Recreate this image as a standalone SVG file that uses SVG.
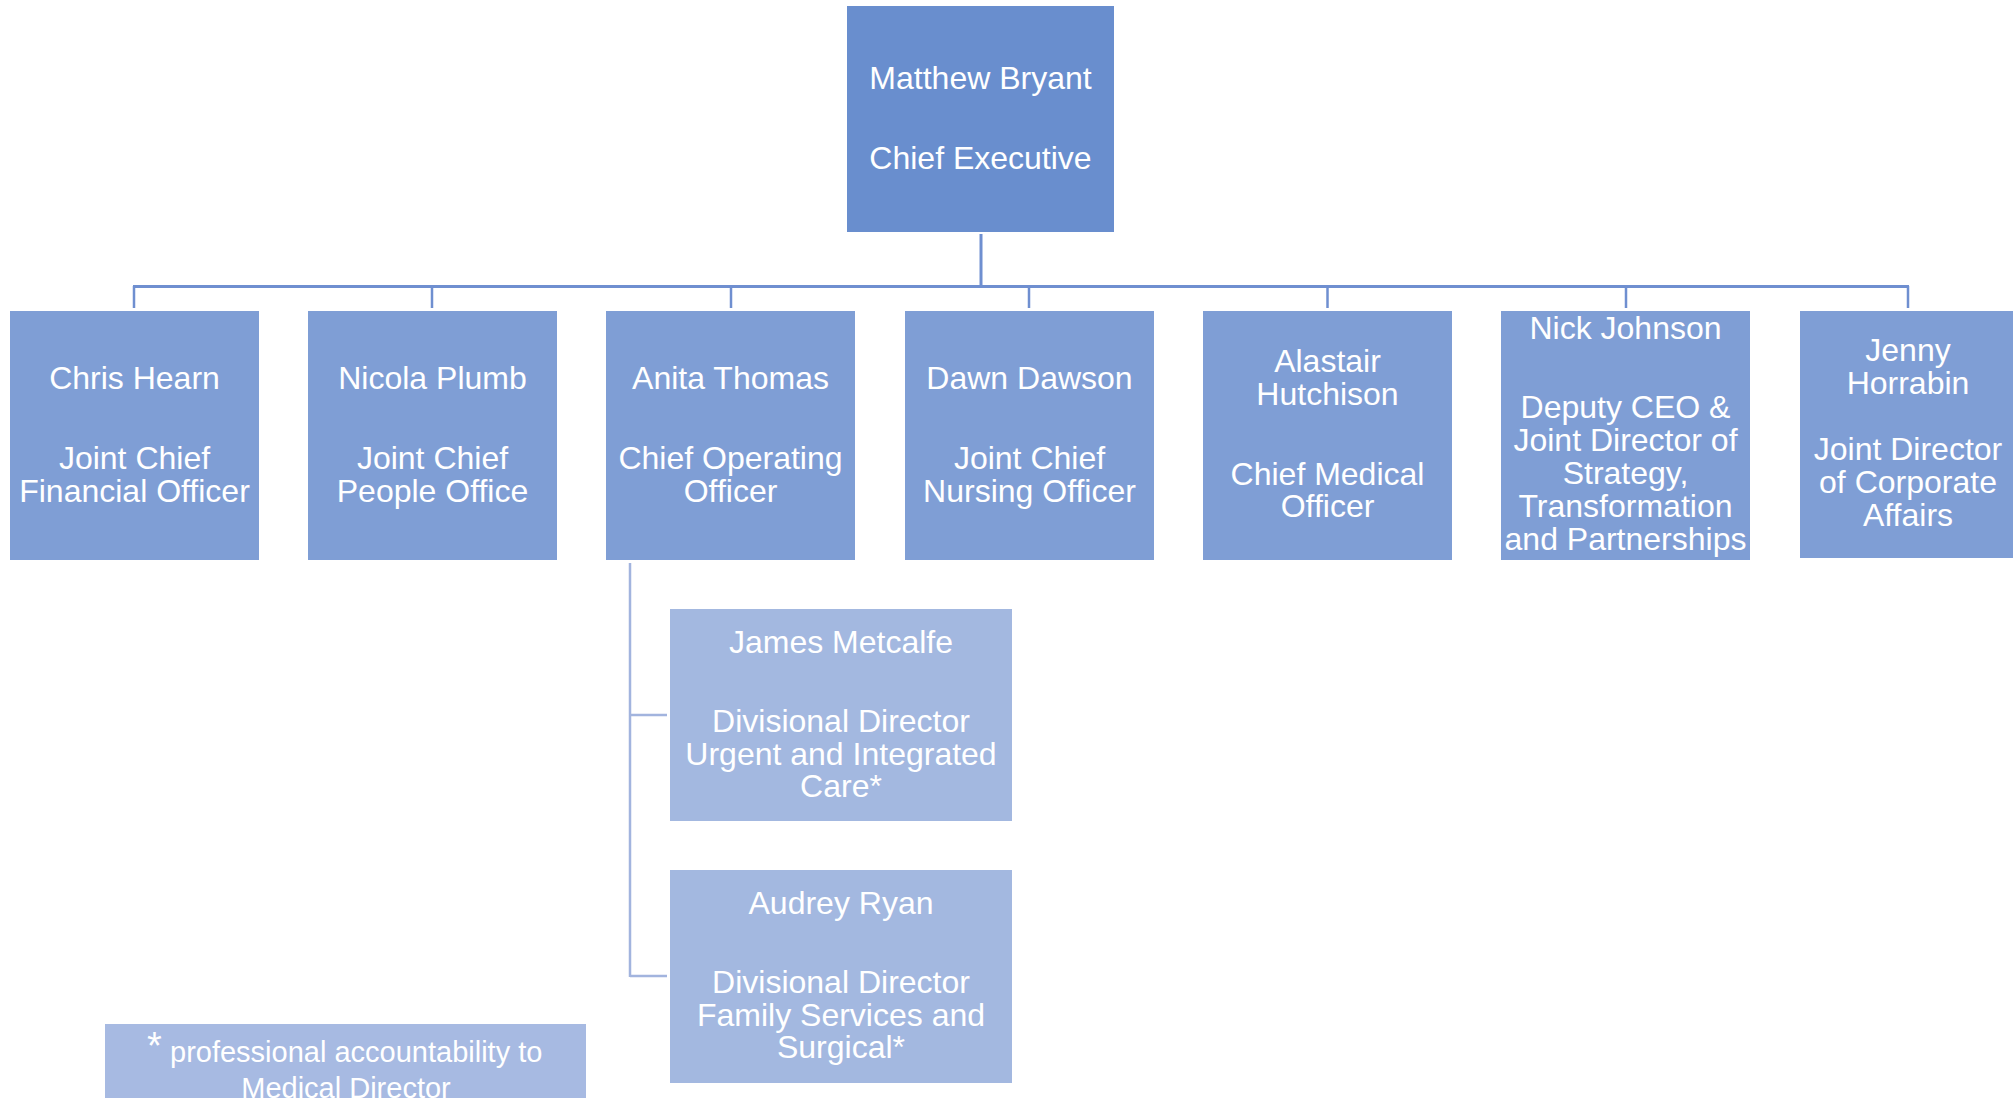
<svg xmlns="http://www.w3.org/2000/svg" width="2013" height="1098" viewBox="0 0 2013 1098">
<style>
.t{font-family:"Liberation Sans",Arial,sans-serif;font-size:32px;fill:#ffffff;text-anchor:middle}
.top{fill:#698ECE}
.row{fill:#7F9ED5}
.sub{fill:#A3B8E0}
.foot{fill:#A7BAE2}
.ln{stroke:#6F8FD0;stroke-width:3;fill:none}
.tk{stroke:#6F8FD0;stroke-width:2.5;fill:none}
.sl{stroke:#A2B4DE;stroke-width:2.5;fill:none}
</style>
<rect width="2013" height="1098" fill="#ffffff"/>
<g id="connectors">
<line class="ln" x1="981" y1="234" x2="981" y2="287"/>
<line class="ln" x1="133" y1="286.5" x2="1909" y2="286.5"/>
<line class="tk" x1="134" y1="286" x2="134" y2="308"/>
<line class="tk" x1="432" y1="286" x2="432" y2="308"/>
<line class="tk" x1="731" y1="286" x2="731" y2="308"/>
<line class="tk" x1="1029" y1="286" x2="1029" y2="308"/>
<line class="tk" x1="1327.5" y1="286" x2="1327.5" y2="308"/>
<line class="tk" x1="1626" y1="286" x2="1626" y2="308"/>
<line class="tk" x1="1908" y1="286" x2="1908" y2="308"/>
<line class="sl" x1="630" y1="563" x2="630" y2="977"/>
<line class="sl" x1="630" y1="715" x2="667" y2="715"/>
<line class="sl" x1="630" y1="976" x2="667" y2="976"/>
</g>
<g id="node-ceo">
<rect class="top" x="847" y="6" width="267" height="226"/>
<text class="t" x="980.5" y="89">Matthew Bryant</text>
<text class="t" x="980.5" y="169">Chief Executive</text>
</g>
<g id="node-hearn">
<rect class="row" x="10" y="311" width="249" height="249"/>
<text class="t" x="134.5" y="388.5">Chris Hearn</text>
<text class="t" x="134.5" y="469">Joint Chief</text>
<text class="t" x="134.5" y="502">Financial Officer</text>
</g>
<g id="node-plumb">
<rect class="row" x="308" y="311" width="249" height="249"/>
<text class="t" x="432.5" y="388.5">Nicola Plumb</text>
<text class="t" x="432.5" y="469">Joint Chief</text>
<text class="t" x="432.5" y="502">People Office</text>
</g>
<g id="node-thomas">
<rect class="row" x="606" y="311" width="249" height="249"/>
<text class="t" x="730.5" y="388.5">Anita Thomas</text>
<text class="t" x="730.5" y="469">Chief Operating</text>
<text class="t" x="730.5" y="502">Officer</text>
</g>
<g id="node-dawson">
<rect class="row" x="905" y="311" width="249" height="249"/>
<text class="t" x="1029.5" y="388.5">Dawn Dawson</text>
<text class="t" x="1029.5" y="469">Joint Chief</text>
<text class="t" x="1029.5" y="502">Nursing Officer</text>
</g>
<g id="node-hutchison">
<rect class="row" x="1203" y="311" width="249" height="249"/>
<text class="t" x="1327.5" y="372">Alastair</text>
<text class="t" x="1327.5" y="405">Hutchison</text>
<text class="t" x="1327.5" y="484.5">Chief Medical</text>
<text class="t" x="1327.5" y="517">Officer</text>
</g>
<g id="node-johnson">
<rect class="row" x="1501" y="311" width="249" height="249"/>
<text class="t" x="1625.5" y="339">Nick Johnson</text>
<text class="t" x="1625.5" y="418">Deputy CEO &amp;</text>
<text class="t" x="1625.5" y="451">Joint Director of</text>
<text class="t" x="1625.5" y="484">Strategy,</text>
<text class="t" x="1625.5" y="517">Transformation</text>
<text class="t" x="1625.5" y="550">and Partnerships</text>
</g>
<g id="node-horrabin">
<rect class="row" x="1800" y="311" width="213" height="247"/>
<text class="t" x="1908" y="361">Jenny</text>
<text class="t" x="1908" y="394">Horrabin</text>
<text class="t" x="1908" y="460">Joint Director</text>
<text class="t" x="1908" y="493">of Corporate</text>
<text class="t" x="1908" y="526">Affairs</text>
</g>
<g id="node-metcalfe">
<rect class="sub" x="670" y="609" width="342" height="212"/>
<text class="t" x="841" y="653">James Metcalfe</text>
<text class="t" x="841" y="732">Divisional Director</text>
<text class="t" x="841" y="765">Urgent and Integrated</text>
<text class="t" x="841" y="797">Care*</text>
</g>
<g id="node-ryan">
<rect class="sub" x="670" y="870" width="342" height="213"/>
<text class="t" x="841" y="914">Audrey Ryan</text>
<text class="t" x="841" y="993">Divisional Director</text>
<text class="t" x="841" y="1026">Family Services and</text>
<text class="t" x="841" y="1058">Surgical*</text>
</g>
<g id="node-footnote">
<rect class="foot" x="105" y="1024" width="481" height="74"/>
<text class="t" x="147" y="1059" style="font-size:38px;text-anchor:start">*</text>
<text class="t" x="170" y="1062" style="font-size:29px;text-anchor:start">professional accountability to</text>
<text class="t" x="346" y="1098" style="font-size:29px">Medical Director</text>
</g>
</svg>
